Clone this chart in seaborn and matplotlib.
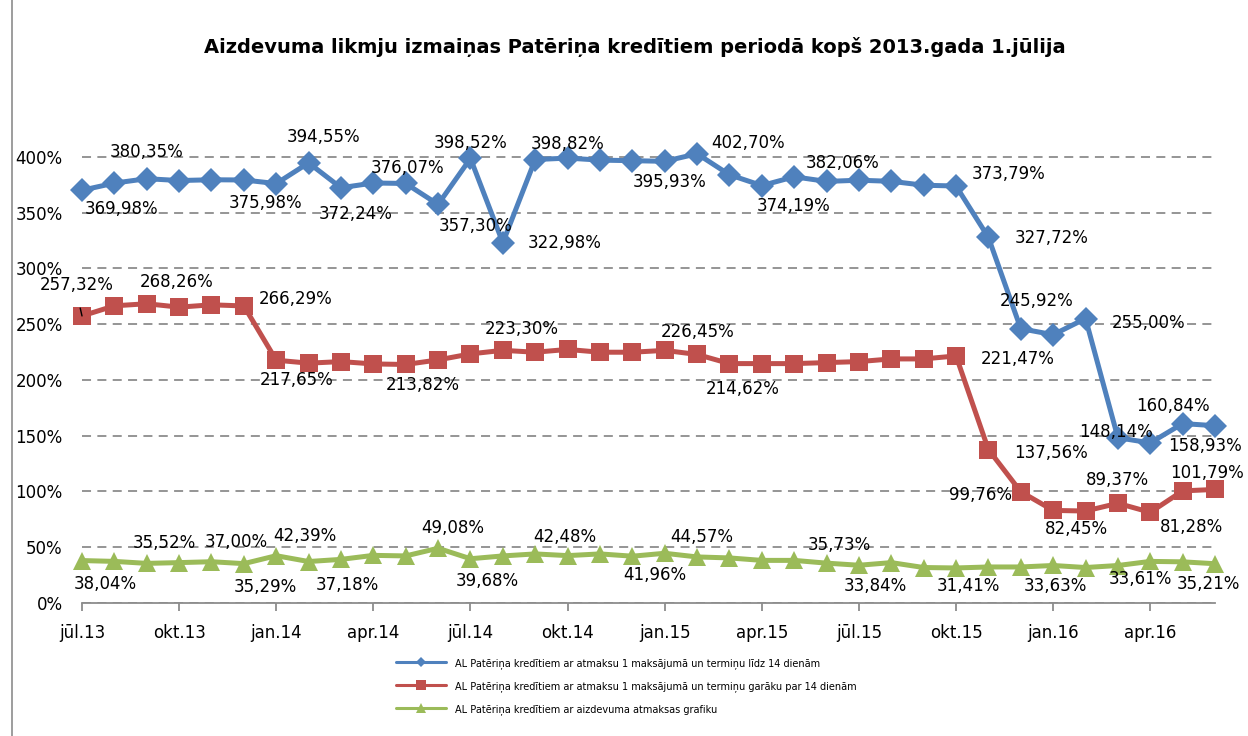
import numpy as np
import pandas as pd
import matplotlib.pyplot as plt
import seaborn as sns
from matplotlib.lines import Line2D
from matplotlib.ticker import FuncFormatter

## data (values in %)
months = ['jūl.13', 'aug.13', 'sep.13', 'okt.13', 'nov.13', 'dec.13',
          'jan.14', 'feb.14', 'mar.14', 'apr.14', 'mai.14', 'jūn.14',
          'jūl.14', 'aug.14', 'sep.14', 'okt.14', 'nov.14', 'dec.14',
          'jan.15', 'feb.15', 'mar.15', 'apr.15', 'mai.15', 'jūn.15',
          'jūl.15', 'aug.15', 'sep.15', 'okt.15', 'nov.15', 'dec.15',
          'jan.16', 'feb.16', 'mar.16', 'apr.16', 'mai.16', 'jūn.16']

blue = [369.98, 376.4, 380.35, 378.7, 379.4, 379.2, 375.98, 394.55, 372.24, 376.5,
        376.07, 357.30, 398.52, 322.98, 397.5, 398.82, 397.0, 396.5, 395.93, 402.70,
        383.9, 374.19, 382.06, 377.9, 379.0, 378.0, 374.5, 373.79, 327.72, 245.92,
        240.5, 255.00, 148.14, 143.5, 160.84, 158.93]

red = [257.32, 266.4, 268.26, 265.2, 267.3, 266.29, 217.65, 215.0, 216.4, 214.3,
       213.82, 217.9, 223.30, 226.5, 224.8, 227.3, 224.8, 224.8, 226.45, 222.8,
       214.62, 214.6, 214.6, 215.5, 216.4, 218.8, 218.8, 221.47, 137.56, 99.76,
       83.0, 82.45, 89.37, 81.28, 100.5, 101.79]

green = [38.04, 37.3, 35.52, 36.2, 37.00, 35.29, 42.39, 37.18, 39.1, 42.7,
         42.2, 49.08, 39.68, 42.2, 44.0, 42.48, 44.0, 41.96, 44.57, 41.3,
         40.4, 38.2, 38.2, 35.73, 33.84, 36.2, 31.8, 31.41, 32.3, 32.3,
         33.63, 31.8, 33.61, 37.3, 36.9, 35.21]

names = ['AL Patēriņa kredītiem ar atmaksu 1 maksājumā un termiņu līdz 14 dienām',
         'AL Patēriņa kredītiem ar atmaksu 1 maksājumā un termiņu garāku par 14 dienām',
         'AL Patēriņa kredītiem ar aizdevuma atmaksas grafiku']

title = 'Aizdevuma likmju izmaiņas Patēriņa kredītiem periodā kopš 2013.gada 1.jūlija'

# which points get a data label, and where (pixel offset right / down)
blue_lbl = {0: (40, 19), 2: (0, -27), 6: (-11, 19), 7: (15, -26), 8: (15, 26),
            10: (2, -15), 11: (37, 22), 12: (0, -15), 13: (62, 0), 15: (0, -14),
            18: (5, 21), 19: (51, -11), 21: (32, 20), 22: (48, -14), 27: (53, -12),
            28: (63, 1), 29: (16, -28), 31: (63, 4), 32: (-2, -6), 34: (-10, -18),
            35: (-10, 20)}
red_lbl = {0: (-5, -31), 2: (30, -22), 5: (52, -7), 6: (20, 20), 10: (17, 21),
           12: (51, -25), 18: (33, -18), 20: (13, 25), 27: (62, 3), 28: (63, 3),
           29: (-40, 3), 31: (-9, 18), 32: (0, -23), 33: (41, 15), 35: (-8, -16)}
green_lbl = {0: (23, 23), 2: (18, -20), 4: (25, -20), 5: (21, 23), 6: (29, -20),
             7: (39, 23), 11: (15, -20), 12: (17, 22), 15: (-3, -19), 17: (22, 19),
             18: (37, -16), 23: (13, -18), 24: (16, 21), 27: (12, 18), 30: (2, 21),
             32: (22, 13), 35: (-7, 20)}

c_blue, c_red, c_green = '#4F81BD', '#C0504D', '#9BBB59'

sns.set_style('white')
plt.rcParams['font.family'] = ['DejaVu Sans']
plt.rcParams['text.color'] = 'black'
plt.rcParams['xtick.labelcolor'] = 'black'
plt.rcParams['ytick.labelcolor'] = 'black'

fig = plt.figure(figsize=(12.48, 7.36), dpi=100)
ax = fig.add_axes([82 / 1248, 133 / 736, (1215 - 82) / 1248, (603 - 101) / 736])

x = np.arange(len(months))
series = [(blue, c_blue, 'D', 12, blue_lbl),
          (red, c_red, 's', 13, red_lbl),
          (green, c_green, '^', 13, green_lbl)]

for vals, col, mk, ms, lbl in series:
    sns.lineplot(x=x, y=vals, ax=ax, color=col, linewidth=3.6, marker=mk,
                 markersize=ms, markeredgewidth=0, clip_on=False, zorder=4)

for vals, col, mk, ms, lbl in series:
    for i, (dx, dy) in lbl.items():
        txt = f'{vals[i]:.2f}'.replace('.', ',') + '%'
        if vals is red and i == 0:
            ax.annotate(txt, (x[i], vals[i]), xytext=(dx, -dy), textcoords='offset pixels',
                        ha='center', va='center', fontsize=12, color='black', zorder=6,
                        arrowprops=dict(arrowstyle='-', color='black', lw=1,
                                        relpos=(0.5, 0), shrinkA=8, shrinkB=0))
        else:
            ax.annotate(txt, (x[i], vals[i]), xytext=(dx, -dy), textcoords='offset pixels',
                        ha='center', va='center', fontsize=12, color='black', zorder=6)

ax.set_xlim(0, len(months) - 1)
ax.set_ylim(0, 450)
ax.set_yticks(np.arange(0, 401, 50))
ax.yaxis.set_major_formatter(FuncFormatter(lambda v, p: f'{v:.0f}%'))
ax.set_xticks(x[::3])
ax.set_xticklabels(months[::3])
ax.yaxis.grid(True, linestyle=(0, (5, 3.5)), color='#8c8c8c', linewidth=1.3)
ax.xaxis.grid(False)
for s in ['top', 'right', 'left']:
    ax.spines[s].set_visible(False)
ax.spines['bottom'].set_color('#8c8c8c')
ax.spines['bottom'].set_linewidth(1.3)
ax.tick_params(axis='y', length=0, pad=14, labelsize=12, labelcolor='black')
ax.tick_params(axis='x', direction='out', length=6, width=1.3, color='#8c8c8c',
               pad=9, labelsize=12, bottom=True, labelcolor='black')
ax.set_xlabel('')
ax.set_ylabel('')

fig.text(635 / 1248, 1 - 47 / 736, title, ha='center', va='center',
         fontsize=14, fontweight='bold', color='black')

handles = [Line2D([], [], color=c_blue, lw=2.2, marker='D', ms=5, mew=0),
           Line2D([], [], color=c_red, lw=2.2, marker='s', ms=6.5, mew=0),
           Line2D([], [], color=c_green, lw=2.2, marker='^', ms=6.5, mew=0)]
leg = fig.legend(handles, names, loc='upper left', bbox_to_anchor=(392 / 1248, 1 - 654 / 736),
                 frameon=False, fontsize=7, handlelength=5.2, handletextpad=0.85,
                 labelspacing=1.25, borderaxespad=0)
for t in leg.get_texts():
    t.set_color('black')

fig.add_artist(Line2D([12 / 1248, 12 / 1248], [0, 1], color='#8c8c8c', lw=1.2))

fig.savefig('out.png', dpi=100)
